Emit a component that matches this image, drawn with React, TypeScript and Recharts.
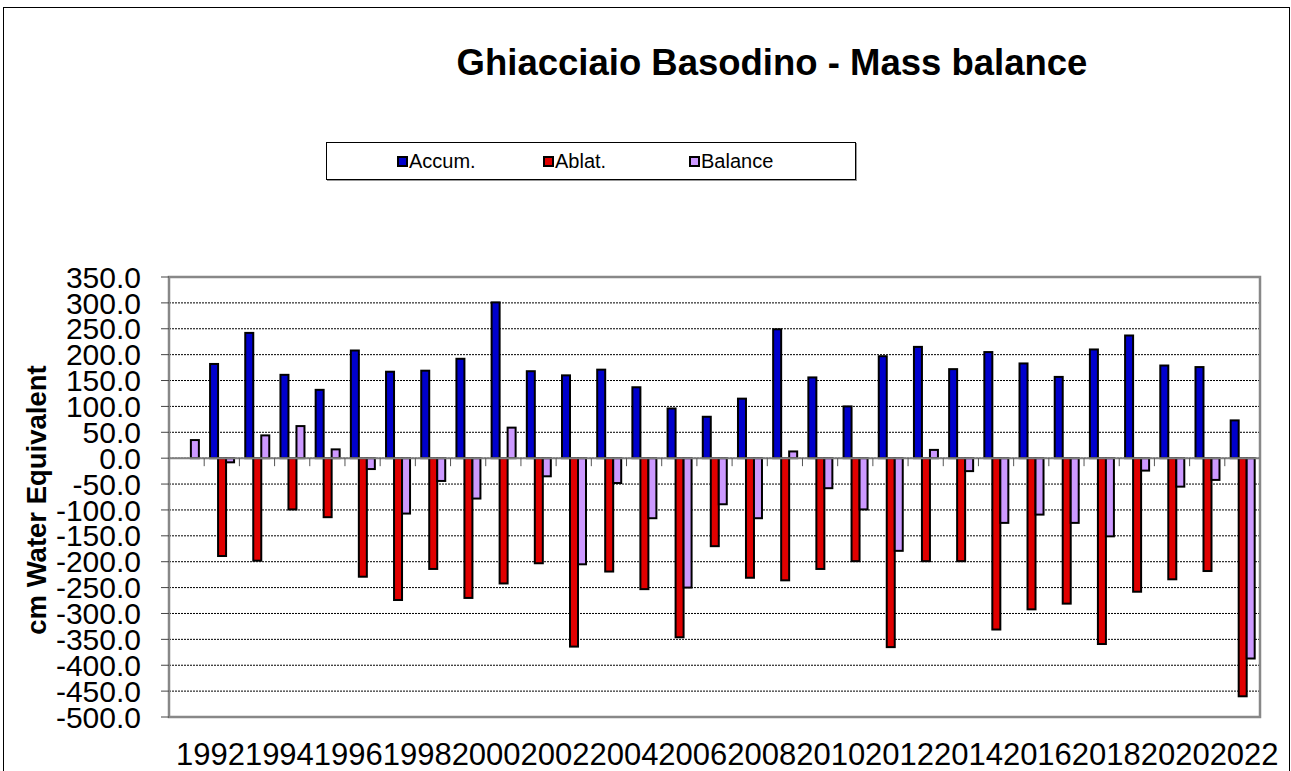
import React from 'react';
import {
  BarChart,
  Bar,
  XAxis,
  YAxis,
  CartesianGrid,
  ReferenceLine,
  ReferenceArea,
  Legend,
} from 'recharts';

const years = [
  '1992', '1993', '1994', '1995', '1996', '1997', '1998', '1999', '2000', '2001',
  '2002', '2003', '2004', '2005', '2006', '2007', '2008', '2009', '2010', '2011',
  '2012', '2013', '2014', '2015', '2016', '2017', '2018', '2019', '2020', '2021', '2022',
];

const accum = [
  null, 182, 242, 161, 132, 208, 167, 169, 192, 301,
  168, 160, 171, 137, 96, 80, 115, 249, 156, 100,
  197, 215, 172, 205, 183, 157, 210, 237, 179, 176, 73,
];

const ablat = [
  null, -189, -198, -99, -114, -229, -274, -214, -270, -242,
  -203, -364, -219, -253, -346, -170, -231, -236, -214, -199,
  -365, -199, -199, -331, -292, -281, -359, -258, -234, -218, -460,
];

const balance = [
  35, -8, 44, 62, 17, -21, -107, -44, -78, 59,
  -35, -205, -48, -116, -250, -89, -116, 13, -58, -99,
  -179, 16, -25, -125, -109, -125, -151, -24, -55, -42, -387,
];

const yTicks = [350, 300, 250, 200, 150, 100, 50, 0, -50, -100, -150, -200, -250, -300, -350, -400, -450, -500];

const series = [
  { key: 'accum', name: 'Accum.', color: '#0000CC' },
  { key: 'ablat', name: 'Ablat.', color: '#E00000' },
  { key: 'balance', name: 'Balance', color: '#CC99FF' },
];

const data = years.map((year, i) => ({
  year,
  accum: accum[i],
  ablat: ablat[i],
  balance: balance[i],
}));

const FONT = '"Liberation Sans", Arial, Helvetica, sans-serif';

// bars with a solid black outline, like the Excel original
const OutlinedBar = (props: any) => {
  const { x, y, width, height, fill } = props;
  if (width == null || height == null || !isFinite(height)) return null;
  const top = height < 0 ? y + height : y;
  const h = Math.abs(height);
  return <rect x={x} y={top} width={width} height={h} fill={fill} stroke="#000" strokeWidth={2} />;
};

// zero line with the little category tick marks hanging below it
const ZeroAxis = (props: any) => {
  const { x1, y1, x2 } = props;
  const step = (x2 - x1) / years.length;
  const marks = [];
  for (let i = 1; i < years.length; i++) {
    const x = x1 + i * step;
    marks.push(<line key={i} x1={x} y1={y1} x2={x} y2={y1 + 8} stroke="#555" strokeWidth={1} />);
  }
  return (
    <g>
      <line x1={x1} y1={y1} x2={x2} y2={y1} stroke="#808080" strokeWidth={2} />
      {marks}
    </g>
  );
};

// the original packs the year labels edge to edge, a bit tighter than the categories
const LABEL_SQUEEZE = 0.979;
const LABEL_SHIFT = 27.8;

const YearTick = (props: any) => {
  const { x, y, payload } = props;
  return (
    <text
      x={x * LABEL_SQUEEZE + LABEL_SHIFT}
      y={y + 40}
      textAnchor="middle"
      fontSize={31}
      fontFamily={FONT}
      fill="#000"
    >
      {payload.value}
    </text>
  );
};

const YLabel = (props: any) => {
  const { viewBox } = props;
  const cx = viewBox.x + 37;
  const cy = 500;
  return (
    <text
      x={cx}
      y={cy}
      transform={`rotate(-90, ${cx}, ${cy})`}
      textAnchor="middle"
      fontSize={27.5}
      fontWeight="bold"
      fontFamily={FONT}
      fill="#000"
    >
      cm Water Equivalent
    </text>
  );
};

const legendPos = [70, 216, 362];

const LegendBox = () => (
  <div
    style={{
      position: 'relative',
      width: 530,
      height: 38,
      boxSizing: 'border-box',
      border: '1px solid #000',
      boxShadow: '1px 1px 0 #999',
      background: '#fff',
      fontFamily: FONT,
      fontSize: 20,
      color: '#000',
    }}
  >
    {series.map((s, i) => (
      <div key={s.key} style={{ position: 'absolute', left: legendPos[i], top: 7, display: 'flex', alignItems: 'center', height: 23 }}>
        <span
          style={{
            display: 'inline-block',
            width: 7,
            height: 7,
            background: s.color,
            border: '2px solid #000',
            marginRight: 1,
          }}
        />
        <span>{s.name}</span>
      </div>
    ))}
  </div>
);

const App: React.FC = () => {
  return (
    <div style={{ position: 'absolute', left: 0, top: 0, width: 1291, height: 771, overflow: 'hidden', background: '#fff' }}>
      <div
        style={{
          position: 'absolute',
          left: 3,
          top: 7,
          width: 1285,
          height: 770,
          border: '1px solid #000',
          borderBottom: 'none',
        }}
      />
      <div
        style={{
          position: 'absolute',
          left: 0,
          width: 1291,
          paddingLeft: 253,
          boxSizing: 'border-box',
          top: 45,
          lineHeight: '36px',
          fontSize: 36.5,
          fontWeight: 'bold',
          fontFamily: FONT,
          textAlign: 'center',
          color: '#000',
        }}
      >
        Ghiacciaio Basodino - Mass balance
      </div>
      <div style={{ position: 'absolute', left: 0, top: 0 }}>
        <BarChart
          width={1291}
          height={771}
          data={data}
          margin={{ top: 277, right: 31, bottom: 0, left: 9 }}
          barGap={0}
          barCategoryGap="16.7%"
        >
          <CartesianGrid vertical={false} stroke="#000" strokeDasharray="2 1" />
          <XAxis
            dataKey="year"
            height={54}
            interval={1}
            axisLine={false}
            tickLine={false}
            tick={<YearTick />}
          />
          <YAxis
            width={160}
            domain={[-500, 350]}
            ticks={yTicks}
            interval={0}
            allowDataOverflow
            axisLine={false}
            tickSize={8}
            tickMargin={20}
            tickLine={{ stroke: '#444' }}
            tickFormatter={(v: number) => v.toFixed(1)}
            tick={{ fill: '#000', fontSize: 30, fontFamily: FONT }}
            label={<YLabel />}
          />
          <ReferenceArea y1={-500} y2={350} fill="none" stroke="#888" strokeWidth={2.5} ifOverflow="visible" />
          {series.map((s) => (
            <Bar
              key={s.key}
              dataKey={s.key}
              name={s.name}
              fill={s.color}
              shape={<OutlinedBar />}
              isAnimationActive={false}
            />
          ))}
          <ReferenceLine y={0} shape={<ZeroAxis />} ifOverflow="visible" />
          <Legend
            layout="vertical"
            align="center"
            verticalAlign="middle"
            content={<LegendBox />}
            wrapperStyle={{ left: 326, top: 142, width: 530, height: 38 }}
          />
        </BarChart>
      </div>
    </div>
  );
};

export default App;
